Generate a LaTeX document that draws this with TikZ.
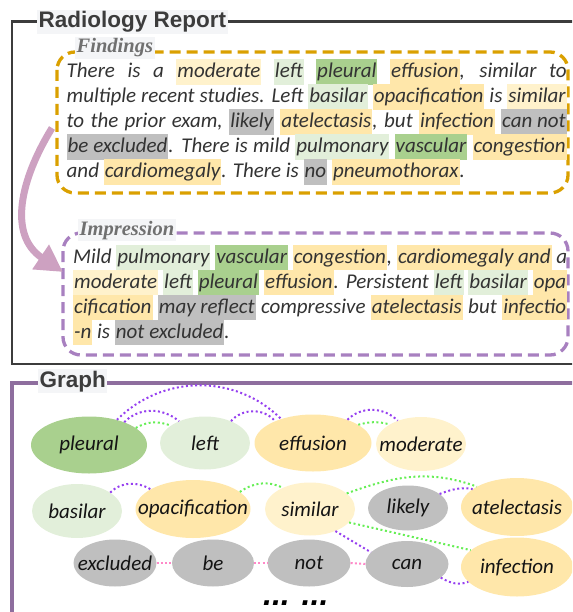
\documentclass[tikz,border=0pt]{standalone}
\usepackage{fontspec}
\setmainfont{Carlito}
\newfontfamily\labsans{Liberation Sans}
\newfontfamily\labserif{Liberation Serif}
\usetikzlibrary{arrows.meta,shapes.geometric}
\definecolor{dg}{HTML}{A9D08E}
\definecolor{lg}{HTML}{E2EFDA}
\definecolor{yy}{HTML}{FFE7AA}
\definecolor{ly}{HTML}{FFF2CC}
\definecolor{gy}{HTML}{BFBFBF}
\definecolor{textc}{HTML}{333333}
\definecolor{nodetext}{HTML}{141414}
\definecolor{framec}{HTML}{3C3C3C}
\definecolor{graphc}{HTML}{8E6E9E}
\definecolor{findc}{HTML}{DAA000}
\definecolor{impc}{HTML}{A880C0}
\definecolor{arrc}{HTML}{CDA1C1}
\definecolor{labbg}{HTML}{F4F5F7}
\definecolor{labtext}{HTML}{707070}
\definecolor{purpe}{HTML}{9640F0}
\definecolor{greene}{HTML}{66EE55}
\definecolor{pinke}{HTML}{FF88C8}
\newcommand{\hlt}[2]{{\fboxsep=1pt\colorbox{#1}{\rule[-6pt]{0pt}{23.5pt}#2}}}
\newcommand{\wtxt}[1]{\makebox[0pt]{#1}}
\begin{document}
\begin{tikzpicture}[x=1pt,y=1pt,
  body/.style={inner sep=0pt, anchor=base west, text=textc, font=\fontsize{21}{25}\selectfont\itshape},
  titlelab/.style={inner sep=1.5pt, anchor=base west, fill=labbg, text=framec, font={\labsans\fontsize{22.5}{26}\selectfont\bfseries}},
  seclab/.style={inner sep=1.5pt, anchor=base west, fill=labbg, text=labtext, font={\labserif\fontsize{20.5}{24}\selectfont\bfseries\itshape}},
  wnode/.style={ellipse, inner sep=0pt, text=nodetext, font=\fontsize{21}{25}\selectfont\itshape},
  dashbox/.style={line width=3.3pt, rounded corners=18pt, dash pattern=on 11pt off 6pt},
  pe/.style={purpe, line width=2pt, dash pattern=on 2pt off 2.6pt},
  ge/.style={greene, line width=2pt, dash pattern=on 2pt off 2.6pt},
  pk/.style={pinke, line width=2pt, dash pattern=on 2pt off 2.2pt},
  arr/.style={arrc, line width=7pt, -{Triangle[length=27pt,width=28pt]}}
]
\useasboundingbox (0,0) rectangle (572,-612);
\clip (0,0) rectangle (572,-612);

% frames
\draw[framec, line width=2.2pt] (580,-21.5) -- (12,-21.5) -- (12,-364) -- (580,-364);
\draw[graphc, line width=3.2pt] (580,-383) -- (12,-383) -- (12,-620);

% dashed boxes
\draw[dashbox, findc] (57,-52) rectangle (568,-193);
\draw[dashbox, impc] (63,-233) rectangle (568,-355);

% labels
\node[titlelab] (rr) at (37,-27.7) {Radiology Report};
\node[titlelab] (gl) at (38,-387) {Graph};
\node[seclab] (fl) at (75,-53) {Findings};
\node[seclab] (il) at (78,-235) {Impression};

% Findings text
\node[body] (f1) at (66.5,-78) {\hbox to 500pt{There is a \hlt{ly}{moderate} \hlt{lg}{left} \hlt{dg}{pleural} \hlt{yy}{effusion}, similar to}};
\node[body] (f2) at (66.5,-103) {\hbox to 500pt{multiple recent studies. Left \hlt{lg}{basilar} \hlt{yy}{opacification} is \hlt{ly}{similar}}};
\node[body] (f3) at (66.5,-128) {\hbox to 500pt{to the prior exam, \hlt{gy}{likely} \hlt{yy}{atelectasis}, but \hlt{yy}{infection} \hlt{gy}{can not}}};
\node[body] (f4) at (66.5,-153) {\hbox to 500pt{\hlt{gy}{be excluded}. There is mild \hlt{lg}{pulmonary} \hlt{dg}{vascular} \hlt{yy}{congestion}}};
\node[body] (f5) at (66.5,-178) {and \hlt{yy}{cardiomegaly}. There is \hlt{gy}{no} \hlt{yy}{pneumothorax}.};

% Impression text
\node[body] (i1) at (73,-263) {\hbox to 494pt{Mild \hlt{lg}{pulmonary} \hlt{dg}{vascular} \hlt{yy}{congestion}, \hlt{yy}{cardiomegaly and} a}};
\node[body] (i2) at (73,-288) {\hbox to 494pt{\hlt{ly}{moderate} \hlt{lg}{left} \hlt{dg}{pleural} \hlt{yy}{effusion}. Persistent \hlt{lg}{left} \hlt{lg}{basilar} \hlt{yy}{opa}}};
\node[body] (i3) at (73,-313) {\hbox to 494pt{\hlt{yy}{cification} \hlt{gy}{may reflect} compressive \hlt{yy}{atelectasis} but \hlt{yy}{infectio}}};
\node[body] (i4) at (73,-338) {\hlt{yy}{-n} is \hlt{gy}{not excluded}.};

% arrow findings -> impression
\coordinate (arrS) at (52,-128);
\coordinate (arrE) at (63,-272);
\draw[arr] (arrS) .. controls (20,-180) and (8,-235) .. (arrE);

% graph nodes
\node[wnode, fill=dg, minimum width=116pt, minimum height=57pt] (pleural) at (89,-445) {\wtxt{pleural}};
\node[wnode, fill=lg, minimum width=90pt, minimum height=53pt] (left) at (205,-443) {\wtxt{left}};
\node[wnode, fill=yy, minimum width=117pt, minimum height=57pt] (effusion) at (313,-443) {\wtxt{effusion}};
\node[wnode, fill=ly, minimum width=90pt, minimum height=54pt] (moderate) at (421,-444) {\wtxt{moderate}};
\node[wnode, fill=lg, minimum width=90pt, minimum height=54pt] (basilar) at (77,-511) {\wtxt{basilar}};
\node[wnode, fill=yy, minimum width=115pt, minimum height=58pt] (opac) at (193,-509) {\wtxt{opacification}};
\node[wnode, fill=ly, minimum width=90pt, minimum height=53pt] (similar) at (310,-509) {\wtxt{similar}};
\node[wnode, fill=gy, minimum width=80pt, minimum height=45pt] (likely) at (408,-508) {\wtxt{likely}};
\node[wnode, fill=yy, minimum width=112pt, minimum height=58pt] (atel) at (517,-507) {\wtxt{atelectasis}};
\node[wnode, fill=gy, minimum width=83pt, minimum height=47pt] (excluded) at (115,-563) {\wtxt{excluded}};
\node[wnode, fill=gy, minimum width=82pt, minimum height=47pt] (be) at (213,-563) {\wtxt{be}};
\node[wnode, fill=gy, minimum width=83pt, minimum height=47pt] (not) at (309,-563) {\wtxt{not}};
\node[wnode, fill=gy, minimum width=83pt, minimum height=46pt] (can) at (407,-564) {\wtxt{can}};
\node[wnode, fill=yy, minimum width=112pt, minimum height=59pt] (infection) at (517,-567) {\wtxt{infection}};

% graph edges
\draw[pe] (pleural.42) to[out=45,in=135] (effusion.143);
\draw[pe] (pleural.33) to[out=45,in=140] (left.140);
\draw[ge] (pleural.20) to[out=30,in=160] (left.153);
\draw[pe] (left.40) to[out=50,in=130] (effusion.150);
\draw[pe] (effusion.34) to[out=45,in=135] (moderate.135);
\draw[ge] (effusion.22) to[out=15,in=165] (moderate.148);
\draw[pe] (basilar.29) to[out=45,in=150] (opac.155);
\draw[ge] (opac.20) to[out=35,in=155] (similar.142);
\draw[ge] (similar.23) to[out=20,in=160] (atel.153);
\draw[pe] (likely.24) to[out=20,in=170] (atel.158);
\draw[ge] (similar.-19) -- (infection.160);
\draw[pe] (similar.-41) -- (can.162);
\draw[pe] (can.-22) to[out=-30,in=200] (infection.197);
\draw[pk] (excluded.east) -- (be.west);
\draw[pk] (be.east) -- (not.west);
\draw[pk] (not.east) -- (can.west);

% continuation dots
\node[anchor=base west, inner sep=0pt, text=black, font={\labsans\fontsize{32}{36}\selectfont\bfseries\itshape}] (more) at (263,-605) {... ...};
\end{tikzpicture}
\end{document}
